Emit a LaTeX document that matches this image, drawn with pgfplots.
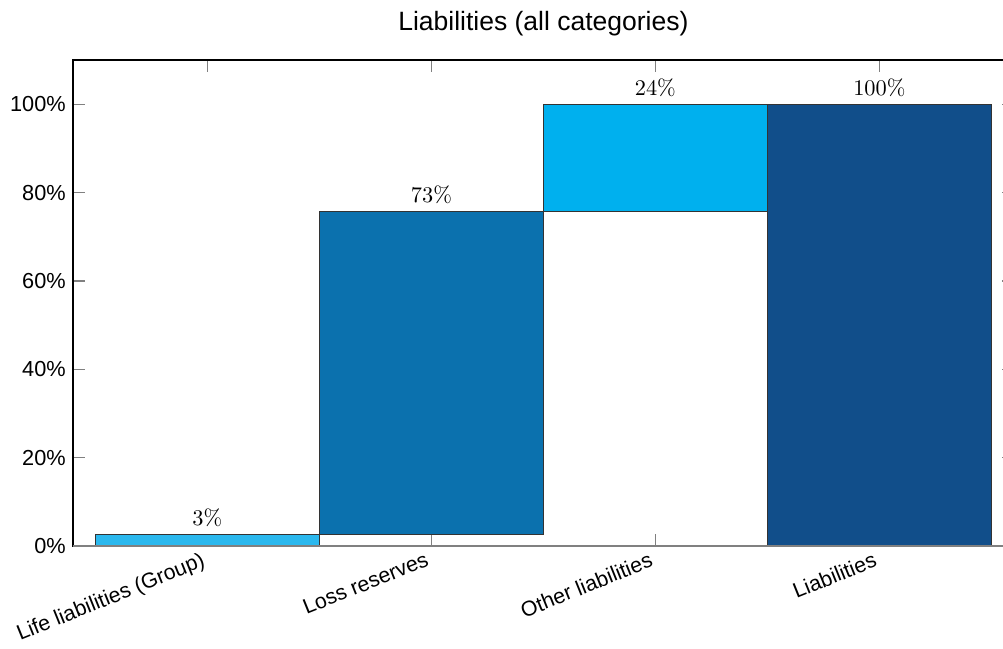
\documentclass[border=0pt]{standalone}
\usepackage{fontspec}
\usepackage{pgfplots}
\pgfplotsset{compat=1.18}
\newfontfamily\hv{Liberation Sans}
\definecolor{cA}{HTML}{2BB8EE}
\definecolor{cB}{HTML}{0B71AE}
\definecolor{cC}{HTML}{00B0EE}
\definecolor{cD}{HTML}{114E8A}
\begin{document}
\begin{tikzpicture}
\begin{axis}[
  scale only axis,
  width=454.4pt, height=234.7pt,
  xmin=-0.6, xmax=3.6,
  ymin=0, ymax=110,
  xtick={0,1,2,3},
  xticklabels={Life liabilities (Group),Loss reserves,Other liabilities,Liabilities},
  xticklabel style={font=\hv\fontsize{10.3}{12}\selectfont, rotate=22, anchor=north east, inner sep=1pt, xshift=-3pt},
  ytick={0,20,40,60,80,100},
  yticklabels={0\%,20\%,40\%,60\%,80\%,100\%},
  yticklabel style={font=\hv\fontsize{10.5}{12}\selectfont},
  tick align=inside,
  major tick length=5.8pt,
  major tick style={gray, line width=0.6pt},
  axis line style={black, line width=0.6pt},
  title={\hv\fontsize{12.8}{15}\selectfont Liabilities (all categories)},
  title style={yshift=2pt},
  clip=false,
]
\addplot[fill=cA, draw=black!80, line width=0.5pt] coordinates {(-0.5,0) (0.5,0) (0.5,2.7) (-0.5,2.7) (-0.5,0)} -- cycle;
\addplot[fill=cB, draw=black!80, line width=0.5pt] coordinates {(0.5,2.7) (1.5,2.7) (1.5,75.8) (0.5,75.8) (0.5,2.7)} -- cycle;
\addplot[fill=cC, draw=black!80, line width=0.5pt] coordinates {(1.5,75.8) (2.5,75.8) (2.5,100) (1.5,100) (1.5,75.8)} -- cycle;
\addplot[fill=cD, draw=black!80, line width=0.5pt] coordinates {(2.5,0) (3.5,0) (3.5,100) (2.5,100) (2.5,0)} -- cycle;
\addplot[only marks, mark=none, point meta=explicit symbolic,
  nodes near coords, nodes near coords style={font=\fontsize{10.8}{13}\selectfont, anchor=south, yshift=0pt}]
  coordinates {(0,2.7)[3\%] (1,75.8)[73\%] (2,100)[24\%] (3,100)[100\%]};
\draw[gray, line width=1pt] (rel axis cs:0,0) -- (rel axis cs:1,0);
\coordinate (ll) at (rel axis cs:0,0);
\coordinate (ur) at (rel axis cs:1,1);
\end{axis}
\pgfresetboundingbox
\path ([shift={(-35.26pt,-49.75pt)}]ll) rectangle ([shift={(-5.2pt,29pt)}]ur);
\end{tikzpicture}
\end{document}
